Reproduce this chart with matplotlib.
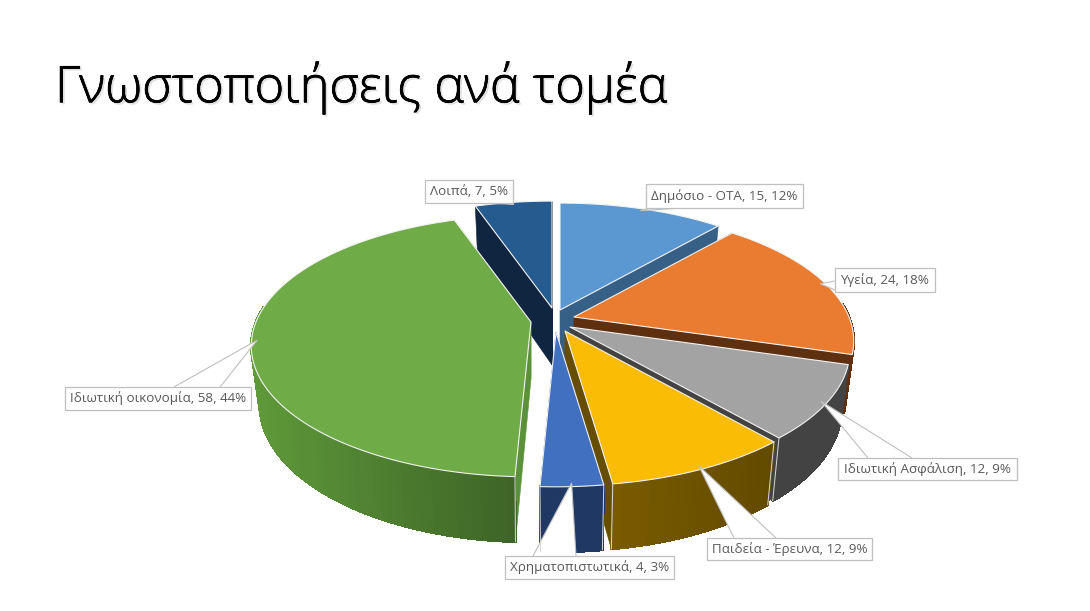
import numpy as np
import matplotlib
matplotlib.use("Agg")
import matplotlib.pyplot as plt
from matplotlib.patches import Polygon, Rectangle
import matplotlib.patheffects as pe

# data
sectors = ["Δημόσιο - ΟΤΑ", "Υγεία", "Ιδιωτική Ασφάλιση", "Παιδεία - Έρευνα",
           "Χρηματοπιστωτικά", "Ιδιωτική οικονομία", "Λοιπά"]
counts = [15, 24, 12, 12, 4, 58, 7]
percents = [12, 18, 9, 9, 3, 44, 5]

# styles
top_colors = ["#5b98d2", "#ea7c31", "#a3a3a3", "#fbbc05", "#4270c0", "#6fab47", "#255b8e"]
cut_colors = ["#376086", "#5f3010", "#434343", "#664d00", "#203864", "#5b9239", "#10253f"]
wall_left = ["#376086", "#5f3010", "#434343", "#7a5c00", "#203864", "#5f9a3a", "#10253f"]
wall_right = ["#376086", "#5f3010", "#434343", "#624a00", "#203864", "#3e6527", "#10253f"]

# layout, in pixels of the 1090x611 picture
shift_x = [560, 574, 570, 565, 556, 531, 552]
shift_y = [310, 317, 327, 331, 332, 322, 308]
draw_order = [6, 0, 5, 1, 2, 3, 4]
box_x0 = [646, 835, 838, 707, 505, 65, 425]
box_x1 = [803, 935, 1017, 872, 674, 251, 513]
box_y0 = [184, 268, 458, 538, 556, 387, 180]
box_y1 = [208, 292, 480, 560, 579, 410, 203]
base_a = [(650, 208), (835, 281), (868, 458), (734, 538), (533, 556), (174, 387), (473, 203)]
base_b = [(683, 208), (835, 290), (912, 458), (776, 538), (576, 556), (220, 387), (500, 203)]

RX, RY, K, DEPTH, SHRINK = 275, 126.5, 0.183, 57, 0.97


def project(i, ang, r=1.0, low=False):
    u, v = r * np.sin(ang), -r * np.cos(ang)
    p = 1 / (1 - K * v)
    x = RX * u * p
    y = RY * v * p
    if low:
        return shift_x[i] + x * SHRINK, shift_y[i] + y * SHRINK + DEPTH * p
    return shift_x[i] + x, shift_y[i] + y


def mix(c1, c2, t):
    a, b = np.array(matplotlib.colors.to_rgb(c1)), np.array(matplotlib.colors.to_rgb(c2))
    return tuple(a + (b - a) * t)


fig = plt.figure(figsize=(10.9, 6.11), dpi=100)
ax = fig.add_axes([0, 0, 1, 1])
ax.set_xlim(0, 1090)
ax.set_ylim(611, 0)
ax.axis("off")

ax.text(55, 88, "Γνωστοποιήσεις ανά τομέα", fontsize=36.3, family="Open Sans",
        fontweight="light", color="black", va="center", ha="left",
        path_effects=[pe.withSimplePatchShadow(offset=(1.5, -1.5), shadow_rgbFace="#aaaaaa", alpha=0.35),
                      pe.withStroke(linewidth=0.5, foreground="black")])

edges = np.cumsum([0] + counts) / sum(counts) * 2 * np.pi

for i in draw_order:
    a0, a1 = edges[i], edges[i + 1]
    arc = np.linspace(a0, a1, max(int((a1 - a0) * 40), 6))
    centre = (shift_x[i], shift_y[i])
    centre_low = project(i, 0, 0, low=True)

    # radial cut faces
    for a in (a0, a1):
        quad = [centre, project(i, a), project(i, a, low=True), centre_low]
        ax.add_patch(Polygon(quad, closed=True, fc=cut_colors[i], ec=cut_colors[i], lw=0.4))

    # outer wall, split in thin quads for the gradient; the back of the rim stays hidden
    xs = [project(i, a)[0] for a in arc]
    x_min, x_max = min(xs), max(xs)
    for a, b in sorted(zip(arc[:-1], arc[1:]), key=lambda s: -np.cos(s[0])):
        if np.cos(a) > 0.1 and np.cos(b) > 0.1:
            continue
        t = (project(i, a)[0] - x_min) / max(x_max - x_min, 1)
        col = mix(wall_left[i], wall_right[i], t)
        quad = [project(i, a), project(i, b), project(i, b, low=True), project(i, a, low=True)]
        ax.add_patch(Polygon(quad, closed=True, fc=col, ec=col, lw=1.2, antialiased=False))
    for a in (a0, a1):
        if np.cos(a) < -0.3:
            ax.plot([project(i, a)[0], project(i, a, low=True)[0]],
                    [project(i, a)[1], project(i, a, low=True)[1]], color="#d9d9d9", lw=0.7)

    # top face
    pts = [centre] + [project(i, a) for a in arc]
    ax.add_patch(Polygon(pts, closed=True, fc=top_colors[i], ec="#f2f2f2", lw=0.8, joinstyle="round"))

# callouts
for i, name in enumerate(sectors):
    mid = (edges[i] + edges[i + 1]) / 2
    tip = project(i, mid, 0.98)
    ax.add_patch(Polygon([base_a[i], tip, base_b[i]], closed=False, fc="white", ec="#bfbfbf", lw=0.8))
    ax.add_patch(Rectangle((box_x0[i], box_y0[i]), box_x1[i] - box_x0[i], box_y1[i] - box_y0[i],
                           fc="white", ec="#bfbfbf", lw=0.9))
    ax.text((box_x0[i] + box_x1[i]) / 2, (box_y0[i] + box_y1[i]) / 2,
            f"{name}, {counts[i]}, {percents[i]}%", fontsize=9.6, family="Open Sans",
            color="#595959", ha="center", va="center")

fig.savefig("out.png", dpi=100)
